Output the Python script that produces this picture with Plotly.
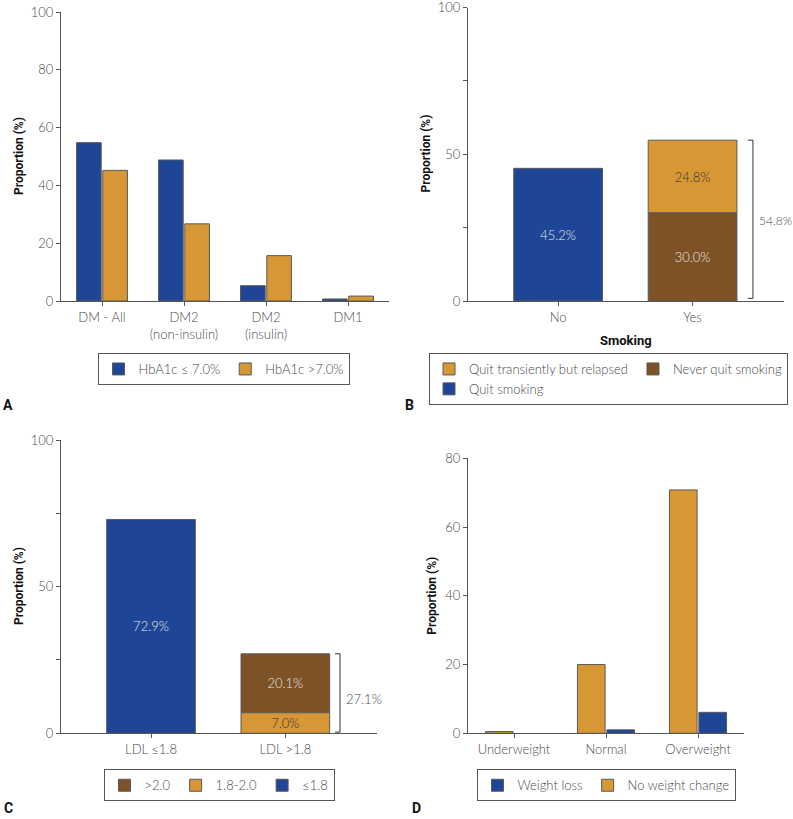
import plotly.graph_objects as go

# ---------------- data ----------------
# Panel A
dm_cats = ["DM - All", "DM2<br>(non-insulin)", "DM2<br>(insulin)", "DM1"]
hba1c_le7 = [54.8, 48.8, 5.3, 0.7]
hba1c_gt7 = [45.2, 26.7, 15.7, 1.7]

# Panel B
smoking_cats = ["No", "Yes"]
quit_smoking = [45.2]          # "No"
never_quit = [30.0]            # "Yes" (bottom)
quit_relapsed = [24.8]         # "Yes" (top)

# Panel C
ldl_cats = ["LDL ≤1.8", "LDL >1.8"]
ldl_le18 = [72.9]              # "LDL ≤1.8"
ldl_18_20 = [7.0]              # "LDL >1.8" (bottom)
ldl_gt20 = [20.1]              # "LDL >1.8" (top)

# Panel D
bmi_cats = ["Underweight", "Normal", "Overweight"]
no_weight_change = [0.5, 20.0, 70.8]
weight_loss = [None, 1.0, 6.1]   # no bar drawn for underweight

# ---------------- styles ----------------
BLUE = "#1F4696"
ORANGE = "#D79734"
BROWN = "#7D5227"
OUTLINE = "#5a5a5a"
FONT = "Lato"
TXT = "#4a4a4a"
AX = "#555555"

mline = dict(color=OUTLINE, width=1)
lbl_font_light = dict(color="#e6e6e6", size=13, family=FONT, weight=300)
lbl_font_dark = dict(color="#333333", size=13, family=FONT, weight=300)

fig = go.Figure()

# ---- A ----
fig.add_trace(go.Bar(x=dm_cats, y=hba1c_le7, name="HbA1c ≤ 7.0%", marker=dict(color=BLUE, line=mline),
                     xaxis="x", yaxis="y", legend="legend"))
fig.add_trace(go.Bar(x=dm_cats, y=hba1c_gt7, name="HbA1c >7.0%", marker=dict(color=ORANGE, line=mline),
                     xaxis="x", yaxis="y", legend="legend"))

# ---- B ----
BW = 0.66
inside = dict(textposition="inside", insidetextanchor="middle", constraintext="none")
fig.add_trace(go.Bar(x=["Yes"], y=quit_relapsed, base=never_quit, name="Quit transiently but relapsed",
                     marker=dict(color=ORANGE, line=mline), width=BW, offset=-BW / 2,
                     text=[f"{v:.1f}%" for v in quit_relapsed], textfont=lbl_font_dark, **inside,
                     xaxis="x2", yaxis="y2", legend="legend2", legendgroup="g1"))
fig.add_trace(go.Bar(x=["Yes"], y=never_quit, name="Never quit smoking",
                     marker=dict(color=BROWN, line=mline), width=BW, offset=-BW / 2,
                     text=[f"{v:.1f}%" for v in never_quit], textfont=lbl_font_light, **inside,
                     xaxis="x2", yaxis="y2", legend="legend2", legendgroup="g2"))
fig.add_trace(go.Bar(x=["No"], y=quit_smoking, name="Quit smoking",
                     marker=dict(color=BLUE, line=mline), width=BW, offset=-BW / 2,
                     text=[f"{v:.1f}%" for v in quit_smoking], textfont=lbl_font_light, **inside,
                     xaxis="x2", yaxis="y2", legend="legend2", legendgroup="g1"))

# ---- C ----
fig.add_trace(go.Bar(x=["LDL >1.8"], y=ldl_gt20, base=ldl_18_20, name=">2.0",
                     marker=dict(color=BROWN, line=mline), width=BW, offset=-BW / 2,
                     text=[f"{v:.1f}%" for v in ldl_gt20], textfont=lbl_font_light, **inside,
                     xaxis="x3", yaxis="y3", legend="legend3"))
fig.add_trace(go.Bar(x=["LDL >1.8"], y=ldl_18_20, name="1.8-2.0",
                     marker=dict(color=ORANGE, line=mline), width=BW, offset=-BW / 2,
                     text=[f"{v:.1f}%" for v in ldl_18_20], textfont=lbl_font_dark, **inside,
                     xaxis="x3", yaxis="y3", legend="legend3"))
fig.add_trace(go.Bar(x=["LDL ≤1.8"], y=ldl_le18, name="≤1.8",
                     marker=dict(color=BLUE, line=mline), width=BW, offset=-BW / 2,
                     text=[f"{v:.1f}%" for v in ldl_le18], textfont=lbl_font_light, **inside,
                     xaxis="x3", yaxis="y3", legend="legend3"))

# ---- D ----
fig.add_trace(go.Bar(x=bmi_cats, y=no_weight_change, name="No weight change", legendrank=2,
                     marker=dict(color=ORANGE, line=mline), xaxis="x4", yaxis="y4", legend="legend4"))
fig.add_trace(go.Bar(x=bmi_cats, y=weight_loss, name="Weight loss", legendrank=1,
                     marker=dict(color=BLUE, line=mline), xaxis="x4", yaxis="y4", legend="legend4"))

# ---------------- axes ----------------
W, H = 793, 819


def px_x(a, b):
    return [a / W, b / W]


def px_y(top, bottom):
    return [1 - bottom / H, 1 - top / H]


tickfont = dict(family=FONT, size=13, color=TXT, weight=300)
common_x = dict(type="category", showline=True, linecolor=AX, linewidth=1, ticks="outside", ticklen=4,
                tickcolor=AX, showgrid=False, zeroline=False, tickfont=tickfont, fixedrange=True,
                automargin=False)
common_y = dict(showline=True, linecolor=AX, linewidth=1, ticks="outside", ticklen=4, tickcolor=AX,
                showgrid=False, zeroline=False, tickfont=tickfont, fixedrange=True, automargin=False,
                ticklabeloverflow="allow")

five_vals = [0, 25, 50, 75, 100]
five_text = ["0", "", "50", "", "100"]

fig.update_layout(
    xaxis=dict(common_x, domain=px_x(61, 389), anchor="y", range=[-0.5, 3.5],
               categoryorder="array", categoryarray=dm_cats),
    yaxis=dict(common_y, domain=px_y(12, 301), anchor="x", range=[0, 100], dtick=20),
    xaxis2=dict(common_x, domain=px_x(468, 784), anchor="y2", range=[-0.67, 1.68],
                categoryorder="array", categoryarray=smoking_cats),
    yaxis2=dict(common_y, domain=px_y(7.5, 301), anchor="x2", range=[0, 100],
                tickvals=five_vals, ticktext=five_text),
    xaxis3=dict(common_x, domain=px_x(61, 376.7), anchor="y3", range=[-0.67, 1.68],
                categoryorder="array", categoryarray=ldl_cats),
    yaxis3=dict(common_y, domain=px_y(440, 733.3), anchor="x3", range=[0, 100],
                tickvals=five_vals, ticktext=five_text),
    xaxis4=dict(common_x, domain=px_x(468, 744), anchor="y4", range=[-0.5, 2.5],
                categoryorder="array", categoryarray=bmi_cats),
    yaxis4=dict(common_y, domain=px_y(458.3, 733.3), anchor="x4", range=[0, 80], dtick=20),
)

# ---------------- legends ----------------
leg_common = dict(orientation="h", bgcolor="white", bordercolor="#555555", borderwidth=1,
                  font=dict(family=FONT, size=13, color=TXT, weight=300), xanchor="center", yanchor="top")
fig.update_layout(
    legend=dict(leg_common, x=223.5 / W, y=1 - 353 / H),
    legend2=dict(leg_common, x=788 / W, xanchor="right", y=1 - 353 / H, traceorder="grouped",
                 tracegroupgap=0),
    legend3=dict(leg_common, x=219 / W, y=1 - 769.3 / H),
    legend4=dict(leg_common, x=606 / W, y=1 - 769.3 / H),
)

# ---------------- annotations ----------------
annotations = []
title_font = dict(family="Roboto", size=12, color="#111111", weight="bold")
for (xc, yc) in [(18.5, 156.5), (425.5, 154), (18.5, 586.5), (432, 595.7)]:
    annotations.append(dict(text="Proportion (%)", x=xc / W, y=1 - yc / H, xref="paper", yref="paper",
                            textangle=-90, showarrow=False, font=title_font,
                            xanchor="center", yanchor="middle"))
annotations.append(dict(text="Smoking", x=626 / W, y=1 - 340 / H, xref="paper", yref="paper",
                        showarrow=False, font=dict(family="Roboto", size=13, color="#111111", weight="bold"),
                        xanchor="center", yanchor="middle"))
for lab, xc, yc in [("A", 8, 405), ("B", 409, 405), ("C", 8, 808), ("D", 417, 808)]:
    annotations.append(dict(text=lab, x=xc / W, y=1 - yc / H, xref="paper", yref="paper", showarrow=False,
                            font=dict(family="Roboto", size=14, color="#111111", weight="bold"),
                            xanchor="center", yanchor="middle"))

# totals for brackets
total_yes = never_quit[0] + quit_relapsed[0]
total_ldl = ldl_18_20[0] + ldl_gt20[0]

shapes = []


def bracket(xr, yr, x0, x1, ytop, ybot):
    ln = dict(color="#333333", width=1)
    return [
        dict(type="line", xref=xr, yref=yr, x0=x1, x1=x1, y0=ybot, y1=ytop, line=ln),
        dict(type="line", xref=xr, yref=yr, x0=x0, x1=x1, y0=ytop, y1=ytop, line=ln),
        dict(type="line", xref=xr, yref=yr, x0=x0, x1=x1, y0=ybot, y1=ybot, line=ln),
    ]


shapes += bracket("x2", "y2", 1.411, 1.449, total_yes, 0.9)
shapes += bracket("x3", "y3", 1.37, 1.407, total_ldl, 0.4)
annotations.append(dict(text=f"{total_yes:.1f}%", x=1.478, y=total_yes / 2, xref="x2", yref="y2",
                        showarrow=False, xanchor="left", yanchor="middle",
                        font=dict(family=FONT, size=12, color=TXT, weight=300)))
annotations.append(dict(text=f"{total_ldl:.1f}%", x=1.44, y=total_ldl / 2 - 2, xref="x3", yref="y3",
                        showarrow=False, xanchor="left", yanchor="middle",
                        font=dict(family=FONT, size=13, color=TXT, weight=300)))

fig.update_layout(
    width=W, height=H, autosize=False,
    margin=dict(l=0, r=0, t=0, b=0, pad=0, autoexpand=False),
    paper_bgcolor="white", plot_bgcolor="white",
    barmode="group", bargap=0.36, bargroupgap=0.06,
    font=dict(family=FONT, size=13, color=TXT),
    annotations=annotations, shapes=shapes,
)

fig.write_html("out.html", config={"displayModeBar": False},
               post_script="document.body.style.margin='0';")
